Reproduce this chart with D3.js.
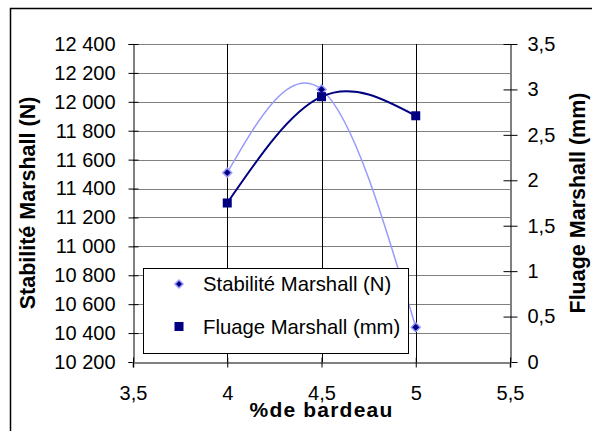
<!DOCTYPE html>
<html>
<head>
<meta charset="utf-8">
<script src="https://cdn.jsdelivr.net/npm/d3@7"></script>
<style>
  html, body { margin: 0; padding: 0; background: #fff; }
  svg { display: block; font-family: "Liberation Sans", Arial, sans-serif; }
</style>
</head>
<body>
<svg id="chart" width="592" height="431"></svg>
<script>
// Bitumen content (%) and Marshall test results
const bitumen = [4, 4.5, 5];
const stabilite = [11510, 12085, 10440];   // N
const fluage = [1.75, 2.92, 2.71];          // mm

const xTicks = [3.5, 4, 4.5, 5, 5.5];
const yLeftTicks = [10200, 10400, 10600, 10800, 11000, 11200, 11400, 11600, 11800, 12000, 12200, 12400];
const yRightTicks = [0, 0.5, 1, 1.5, 2, 2.5, 3, 3.5];

const seriesNames = ["Stabilité Marshall (N)", "Fluage Marshall (mm)"];
const xTitle = "%de bardeau";

const svg = d3.select("#chart");
const W = 592, H = 431;
const plot = { left: 133, right: 510, top: 44, bottom: 362 };

const x = d3.scaleLinear().domain([3.5, 5.5]).range([plot.left, plot.right]);
const yL = d3.scaleLinear().domain([10200, 12400]).range([plot.bottom, plot.top]);
const yR = d3.scaleLinear().domain([0, 3.5]).range([plot.bottom, plot.top]);

const fmtLeft = d => d3.format(",")(d).replace(",", " ");
const fmtComma = d => String(d).replace(".", ",");

// outer frame
svg.append("rect")
  .attr("x", 10.5).attr("y", 8.5)
  .attr("width", W).attr("height", H)
  .attr("fill", "#fff").attr("stroke", "#000").attr("stroke-width", 1.5);

// horizontal gridlines (left axis)
svg.append("g").selectAll("line").data(yLeftTicks.slice(1)).join("line")
  .attr("x1", plot.left).attr("x2", plot.right)
  .attr("y1", d => Math.round(yL(d)) + 0.5).attr("y2", d => Math.round(yL(d)) + 0.5)
  .attr("stroke", "#808080").attr("stroke-width", 1);

// vertical gridlines
svg.append("g").selectAll("line").data(xTicks.slice(1, -1)).join("line")
  .attr("x1", d => Math.round(x(d)) + 0.5).attr("x2", d => Math.round(x(d)) + 0.5)
  .attr("y1", plot.top).attr("y2", plot.bottom)
  .attr("stroke", "#000").attr("stroke-width", 1);

// axes
const axisFont = g => g.selectAll("text")
  .attr("font-size", 20).attr("fill", "#000")
  .attr("font-family", '"Liberation Sans", Arial, sans-serif');

const gLeft = svg.append("g").attr("transform", `translate(${plot.left + 0.5},0)`)
  .call(d3.axisLeft(yL).tickValues(yLeftTicks).tickFormat(fmtLeft).tickSize(5).tickPadding(13))
  .call(axisFont);
gLeft.select(".domain").attr("stroke", "#000");
gLeft.selectAll(".tick line").attr("x2", 5).attr("x1", -5).attr("stroke", "#000");

const gRight = svg.append("g").attr("transform", `translate(${plot.right + 0.5},0)`)
  .call(d3.axisRight(yR).tickValues(yRightTicks).tickFormat(fmtComma).tickSize(5).tickPadding(12))
  .call(axisFont);
gRight.select(".domain").attr("stroke", "#000");
gRight.selectAll(".tick line").attr("x1", -7).attr("x2", 7).attr("stroke", "#000");

const gBottom = svg.append("g").attr("transform", `translate(0,${plot.bottom + 0.5})`)
  .call(d3.axisBottom(x).tickValues(xTicks).tickFormat(fmtComma).tickSize(5).tickPadding(18))
  .call(axisFont);
gBottom.select(".domain").attr("stroke", "#808080").attr("stroke-width", 2);
gBottom.selectAll(".tick line").attr("y1", -5).attr("y2", 5).attr("stroke", "#000");

// axis titles
svg.append("text")
  .attr("transform", `translate(35,${(plot.top + plot.bottom) / 2}) rotate(-90)`)
  .attr("text-anchor", "middle").attr("font-size", 21.5).attr("font-weight", "bold")
  .text("Stabilité Marshall (N)");
svg.append("text")
  .attr("transform", `translate(585,${(plot.top + plot.bottom) / 2}) rotate(-90)`)
  .attr("text-anchor", "middle").attr("font-size", 21.5).attr("font-weight", "bold")
  .text("Fluage Marshall (mm)");
svg.append("text")
  .attr("x", (plot.left + plot.right) / 2).attr("y", 417)
  .attr("text-anchor", "middle").attr("font-size", 21).attr("font-weight", "bold")
  .attr("letter-spacing", 1.2)
  .text(xTitle);

// series lines (smoothed)
const lineL = d3.line().x(d => x(d[0])).y(d => yL(d[1])).curve(d3.curveNatural);
const lineR = d3.line().x(d => x(d[0])).y(d => yR(d[1])).curve(d3.curveNatural);
const stabData = bitumen.map((b, i) => [b, stabilite[i]]);
const fluData = bitumen.map((b, i) => [b, fluage[i]]);

svg.append("path").datum(stabData).attr("d", lineL)
  .attr("fill", "none").attr("stroke", "#9999FF").attr("stroke-width", 1.5);
svg.append("path").datum(fluData).attr("d", lineR)
  .attr("fill", "none").attr("stroke", "#000080").attr("stroke-width", 2);

// markers
const diamond = s => `M0,${-s}L${s},0L0,${s}L${-s},0Z`;
svg.append("g").selectAll("path").data(stabData).join("path")
  .attr("transform", d => `translate(${x(d[0])},${yL(d[1])})`)
  .attr("d", diamond(4.5))
  .attr("fill", "#000080").attr("stroke", "#9999FF").attr("stroke-width", 1.5);
svg.append("g").selectAll("rect").data(fluData).join("rect")
  .attr("x", d => x(d[0]) - 4.5).attr("y", d => yR(d[1]) - 4.5)
  .attr("width", 9).attr("height", 9)
  .attr("fill", "#000080");

// legend
const lg = svg.append("g");
lg.append("rect").attr("x", 143.5).attr("y", 268.5).attr("width", 265).attr("height", 85)
  .attr("fill", "#fff").attr("stroke", "#000").attr("stroke-width", 1);
lg.append("path").attr("transform", "translate(179,284)").attr("d", diamond(4))
  .attr("fill", "#000080").attr("stroke", "#9999FF").attr("stroke-width", 1.5);
lg.append("rect").attr("x", 174.5).attr("y", 322).attr("width", 9).attr("height", 9).attr("fill", "#000080");
lg.selectAll("text").data(seriesNames).join("text")
  .attr("x", 203).attr("y", (d, i) => i === 0 ? 291 : 334)
  .attr("font-size", 20.3).text(d => d);
</script>
</body>
</html>
